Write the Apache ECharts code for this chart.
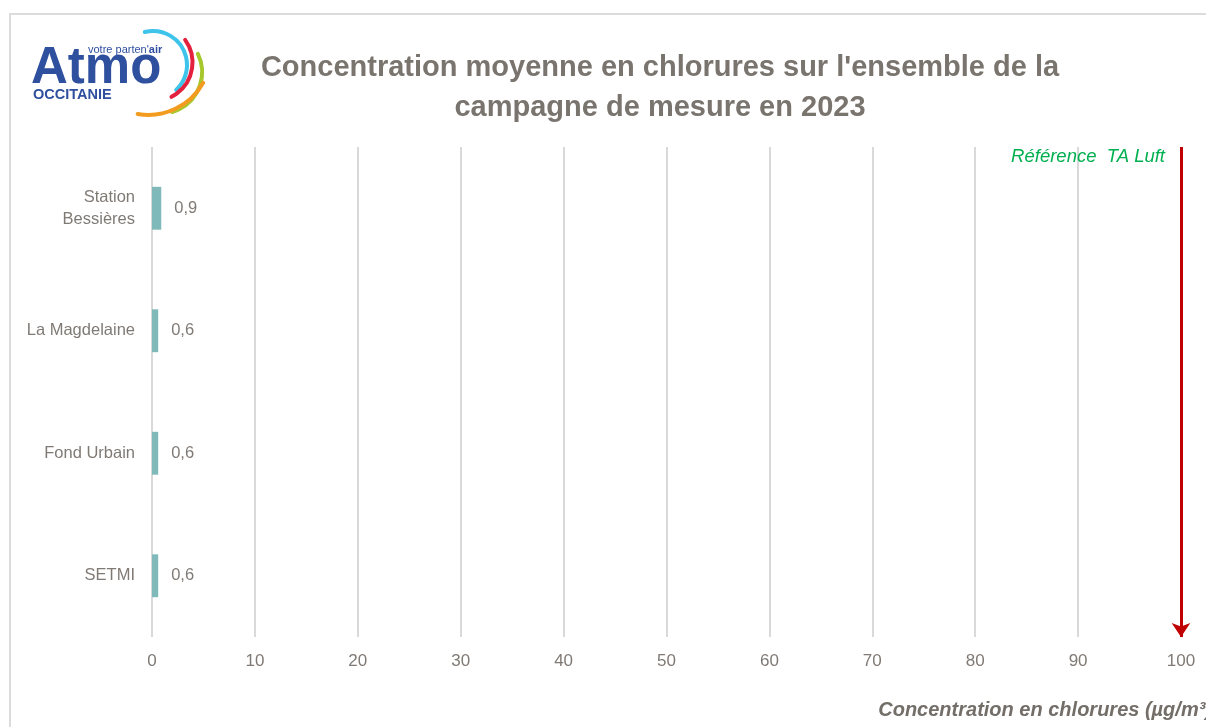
<!DOCTYPE html>
<html>
<head>
<meta charset="utf-8">
<script src="https://cdn.jsdelivr.net/npm/echarts@6/dist/echarts.min.js"></script>
<style>
    html, body { margin: 0; padding: 0; background: #ffffff; }
    #chlorureChart { width: 1206px; height: 727px; }
</style>
</head>
<body>
<div id="chlorureChart"></div>
<script>
var titleLines = ["Concentration moyenne en chlorures sur l'ensemble de la", 'campagne de mesure en 2023'];
var stations = ['Station\nBessières', 'La Magdelaine', 'Fond Urbain', 'SETMI'];
var concentrations = [0.9, 0.6, 0.6, 0.6];
var axisMin = 0, axisMax = 100, axisStep = 10;
var referenceValue = 100;
var referenceName = 'Référence  TA Luft';
var axisName = 'Concentration en chlorures (µg/m³)';

var police = "'Liberation Sans', Arial, sans-serif";
var grayText = '#807a75';

// logo Atmo Occitanie (dessin simple)
function arc(cx, cy, r, a0, a1, color) {
    return {
        type: 'arc',
        shape: { cx: cx, cy: cy, r: r, startAngle: a0 * Math.PI / 180, endAngle: a1 * Math.PI / 180, clockwise: true },
        style: { stroke: color, lineWidth: 4, fill: null, lineCap: 'round' },
        silent: true
    };
}

var logo = [
    arc(153, 65, 34, -104, 47, '#3ec3ea'),
    arc(154, 62.5, 38.5, -36, 63, '#e3203d'),
    arc(160.5, 72, 41.6, -26, 74, '#a7c82c'),
    arc(148.5, 52.4, 62.5, 29, 100, '#f39b1f'),
    {
        type: 'text', left: 31, top: 43, silent: true,
        style: { text: 'Atmo', fill: '#2f4f9f', font: "bold 51px " + police }
    },
    {
        type: 'text', left: 88, top: 44, silent: true,
        style: {
            text: "{a|votre parten'}{b|air}",
            rich: {
                a: { fill: '#2f4f9f', font: "11px " + police },
                b: { fill: '#2f4f9f', font: "bold 11px " + police }
            }
        }
    },
    {
        type: 'text', left: 33, top: 87, silent: true,
        style: { text: 'OCCITANIE', fill: '#2f4f9f', font: "bold 14.5px " + police }
    }
];

var cadre = {
    type: 'rect',
    shape: { x: 10, y: 14, width: 1210, height: 730 },
    style: { stroke: '#dcdcdc', lineWidth: 2, fill: null },
    silent: true
};

var myChart = echarts.init(document.getElementById('chlorureChart'));

var option = {
    animation: false,
    backgroundColor: '#ffffff',
    title: {
        text: titleLines.join('\n'),
        left: 655,
        top: 43,
        textAlign: 'center',
        textStyle: {
            color: '#7a746e',
            fontFamily: police,
            fontWeight: 'bold',
            fontSize: 29,
            lineHeight: 40
        }
    },
    graphic: [cadre].concat(logo),
    grid: {
        left: 152,
        right: 25,
        top: 147,
        bottom: 90,
        outerBoundsMode: 'none'
    },
    xAxis: {
        type: 'value',
        min: axisMin,
        max: axisMax,
        interval: axisStep,
        name: axisName,
        nameLocation: 'end',
        nameGap: 31,
        nameTextStyle: {
            color: '#746e69',
            fontFamily: police,
            fontSize: 20,
            fontWeight: 'bold',
            fontStyle: 'italic',
            align: 'right',
            verticalAlign: 'top',
            padding: [63, 0, 0, 0]
        },
        axisLine: { show: false },
        axisTick: { show: false },
        axisLabel: {
            color: grayText,
            fontFamily: police,
            fontSize: 17,
            margin: 16
        },
        splitLine: {
            show: true,
            lineStyle: { color: '#d9d9d9', width: 2 }
        }
    },
    yAxis: {
        type: 'category',
        data: stations,
        inverse: true,
        axisLine: { show: false },
        axisTick: { show: false },
        axisLabel: {
            color: grayText,
            fontFamily: police,
            fontSize: 16.5,
            lineHeight: 22,
            margin: 17,
            align: 'right'
        }
    },
    series: [{
        name: 'Chlorures',
        type: 'bar',
        data: concentrations,
        barWidth: '35%',
        itemStyle: { color: '#7fb9b9' },
        label: {
            show: true,
            position: 'right',
            distance: 13,
            color: grayText,
            fontFamily: police,
            fontSize: 16.5,
            formatter: function (p) {
                return String(p.value).replace('.', ',');
            }
        },
        markLine: {
            silent: true,
            symbol: ['none', 'arrow'],
            symbolSize: 14,
            lineStyle: { color: '#c00000', width: 3, type: 'solid' },
            label: {
                show: true,
                position: 'start',
                distance: 0,
                align: 'right',
                verticalAlign: 'top',
                padding: [0, 16, 0, 0],
                formatter: referenceName,
                color: '#00b050',
                fontFamily: police,
                fontStyle: 'italic',
                fontSize: 18.5
            },
            data: [{ xAxis: referenceValue }]
        }
    }]
};

myChart.setOption(option);
</script>
</body>
</html>
